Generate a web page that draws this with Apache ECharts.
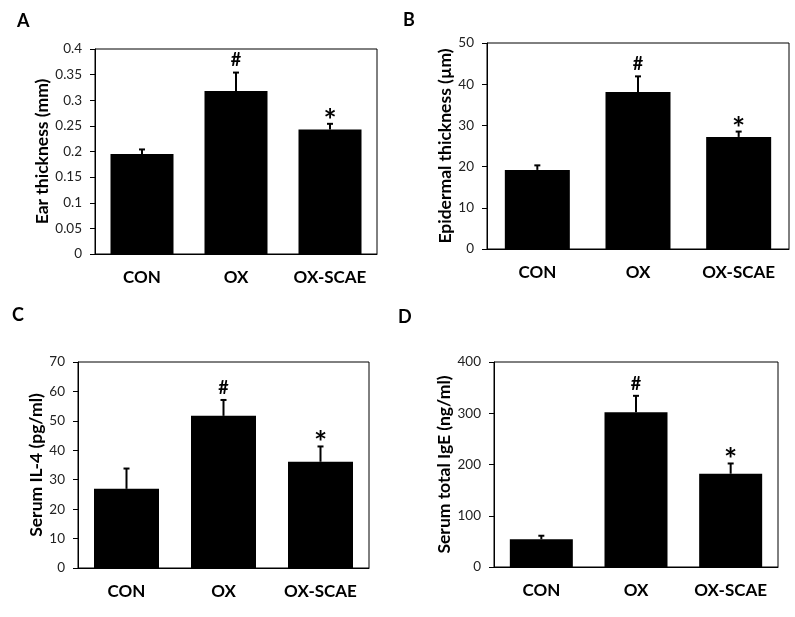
<!DOCTYPE html>
<html>
<head>
<meta charset="utf-8">
<script src="https://cdn.jsdelivr.net/npm/echarts@6/dist/echarts.min.js"></script>
<style>html,body{margin:0;padding:0;background:#fff;}#c{width:795px;height:617px;}</style>
</head>
<body>
<div id="c"></div>
<script>
const categories = ['CON', 'OX', 'OX-SCAE'];
const sigMarks = ['', '#', '*'];

const earThickness = [0.195, 0.318, 0.243];
const earThicknessErr = [0.009, 0.036, 0.011];

const epidermalThickness = [19.2, 38.1, 27.2];
const epidermalThicknessErr = [1.1, 3.8, 1.3];

const serumIL4 = [26.9, 51.7, 36.1];
const serumIL4Err = [6.9, 5.4, 5.2];

const serumIgE = [54, 302, 182];
const serumIgEErr = [7, 32, 20];

const panelLetters = ['A', 'B', 'C', 'D'];
const yTitles = ['Ear thickness (mm)', 'Epidermal thickness (\u00b5m)', 'Serum IL-4 (pg/ml)', 'Serum total IgE (ng/ml)'];
const yMax = [0.4, 50, 70, 400];
const yStep = [0.05, 10, 10, 100];

const panels = [
  { vals: earThickness, errs: earThicknessErr, grid: { left: 95, top: 49, width: 282, height: 205 }, barW: 63, nameGap: 42, letter: [17, 12] },
  { vals: epidermalThickness, errs: epidermalThicknessErr, grid: { left: 487, top: 43, width: 302, height: 206 }, barW: 65, nameGap: 30, letter: [403, 11] },
  { vals: serumIL4, errs: serumIL4Err, grid: { left: 78, top: 362, width: 291, height: 206 }, barW: 65, nameGap: 33, letter: [12, 306] },
  { vals: serumIgE, errs: serumIgEErr, grid: { left: 494, top: 362, width: 284, height: 205 }, barW: 63, nameGap: 39, letter: [398, 308] }
];

const FONT = 'Lato, "Open Sans", sans-serif';

const grids = [], xAxes = [], yAxes = [], series = [], graphics = [];
panels.forEach((p, i) => {
  grids.push(Object.assign({ show: true, borderColor: '#000', borderWidth: 1, backgroundColor: 'transparent' }, p.grid));
  xAxes.push({
    type: 'category', gridIndex: i, data: categories,
    axisLine: { lineStyle: { color: '#000', width: 1 } },
    axisTick: { show: false },
    axisLabel: { interval: 0, hideOverlap: false, color: '#000', fontFamily: FONT, fontWeight: 'bold', fontSize: 17, margin: 15 }
  });
  yAxes.push({
    type: 'value', gridIndex: i, min: 0, max: yMax[i], interval: yStep[i],
    name: yTitles[i], nameLocation: 'middle', nameGap: p.nameGap,
    nameTextStyle: { color: '#000', fontFamily: FONT, fontWeight: 'bold', fontSize: 17.5 },
    axisLine: { show: true, lineStyle: { color: '#000', width: 1 } },
    axisTick: { show: true, inside: false, length: 5, lineStyle: { color: '#000' } },
    axisLabel: { color: '#222', fontFamily: FONT, fontSize: 13.5, margin: 13 },
    splitLine: { show: false }
  });
  series.push({
    type: 'bar', xAxisIndex: i, yAxisIndex: i, data: p.vals, barWidth: p.barW,
    itemStyle: { color: '#000' }, silent: true, animation: false
  });
  const errData = p.vals.map((v, k) => [k, v, p.errs[k]]);
  series.push({
    type: 'custom', xAxisIndex: i, yAxisIndex: i, data: errData, animation: false, silent: true, z: 5,
    renderItem: function (params, api) {
      const x = api.value(0), v = api.value(1), e = api.value(2);
      const base = api.coord([x, v]);
      const top = api.coord([x, v + e]);
      const mark = sigMarks[params.dataIndex];
      const children = [
        { type: 'line', shape: { x1: base[0], y1: base[1], x2: top[0], y2: top[1] }, style: { stroke: '#000', lineWidth: 2 } },
        { type: 'line', shape: { x1: top[0] - 3, y1: top[1], x2: top[0] + 3, y2: top[1] }, style: { stroke: '#000', lineWidth: 2 } }
      ];
      if (mark === '#') {
        children.push({ type: 'text', x: top[0], y: top[1] - 12, style: { text: '#', fill: '#000', font: 'bold 18px ' + FONT, textAlign: 'center', textVerticalAlign: 'middle' } });
      } else if (mark === '*') {
        children.push({ type: 'text', x: top[0], y: top[1] - 3, style: { text: '*', fill: '#000', font: 'bold 31px ' + FONT, textAlign: 'center', textVerticalAlign: 'middle' } });
      }
      return { type: 'group', children: children };
    }
  });
  graphics.push({ type: 'text', left: p.letter[0], top: p.letter[1], style: { text: panelLetters[i], fill: '#000', font: 'bold 18px ' + FONT } });
});

const chart = echarts.init(document.getElementById('c'), null, { renderer: 'canvas' });
chart.setOption({
  animation: false,
  backgroundColor: '#fff',
  grid: grids, xAxis: xAxes, yAxis: yAxes, series: series, graphic: graphics
});
</script>
</body>
</html>
